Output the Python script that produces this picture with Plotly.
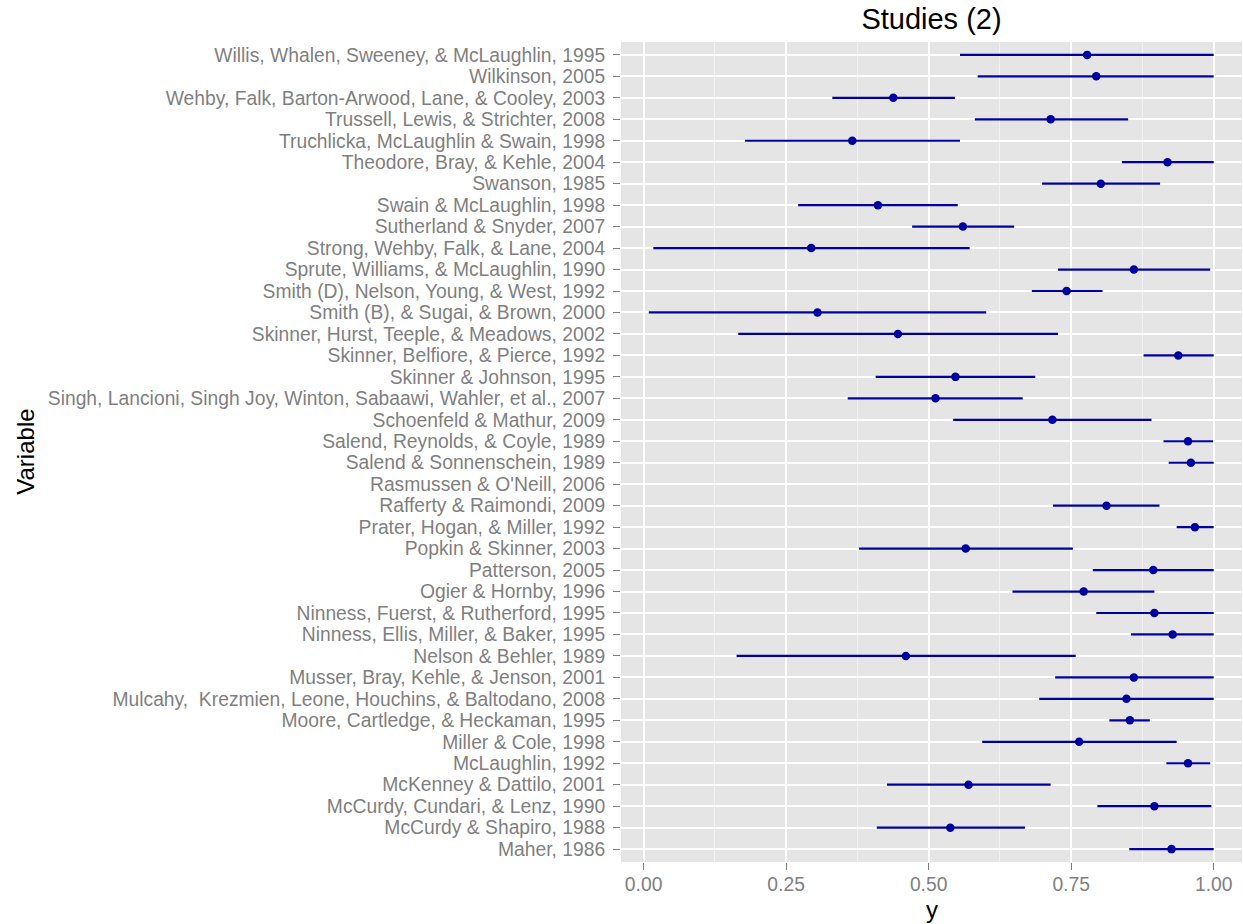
import plotly.graph_objects as go

studies = [
    "Willis, Whalen, Sweeney, & McLaughlin, 1995",
    "Wilkinson, 2005",
    "Wehby, Falk, Barton-Arwood, Lane, & Cooley, 2003",
    "Trussell, Lewis, & Strichter, 2008",
    "Truchlicka, McLaughlin & Swain, 1998",
    "Theodore, Bray, & Kehle, 2004",
    "Swanson, 1985",
    "Swain & McLaughlin, 1998",
    "Sutherland & Snyder, 2007",
    "Strong, Wehby, Falk, & Lane, 2004",
    "Sprute, Williams, & McLaughlin, 1990",
    "Smith (D), Nelson, Young, & West, 1992",
    "Smith (B), & Sugai, & Brown, 2000",
    "Skinner, Hurst, Teeple, & Meadows, 2002",
    "Skinner, Belfiore, & Pierce, 1992",
    "Skinner & Johnson, 1995",
    "Singh, Lancioni, Singh Joy, Winton, Sabaawi, Wahler, et al., 2007",
    "Schoenfeld & Mathur, 2009",
    "Salend, Reynolds, & Coyle, 1989",
    "Salend & Sonnenschein, 1989",
    "Rasmussen & O'Neill, 2006",
    "Rafferty & Raimondi, 2009",
    "Prater, Hogan, & Miller, 1992",
    "Popkin & Skinner, 2003",
    "Patterson, 2005",
    "Ogier & Hornby, 1996",
    "Ninness, Fuerst, & Rutherford, 1995",
    "Ninness, Ellis, Miller, & Baker, 1995",
    "Nelson & Behler, 1989",
    "Musser, Bray, Kehle, & Jenson, 2001",
    "Mulcahy,  Krezmien, Leone, Houchins, & Baltodano, 2008",
    "Moore, Cartledge, & Heckaman, 1995",
    "Miller & Cole, 1998",
    "McLaughlin, 1992",
    "McKenney & Dattilo, 2001",
    "McCurdy, Cundari, & Lenz, 1990",
    "McCurdy & Shapiro, 1988",
    "Maher, 1986",
]

estimate = [0.778, 0.794, 0.438, 0.714, 0.366, 0.919, 0.802, 0.411, 0.560, 0.294,
            0.860, 0.742, 0.305, 0.446, 0.938, 0.547, 0.512, 0.717, 0.955, 0.960,
            None, 0.812, 0.967, 0.565, 0.894, 0.772, 0.896, 0.928, 0.460, 0.860,
            0.847, 0.853, 0.764, 0.955, 0.570, 0.896, 0.538, 0.926]
lower = [0.555, 0.586, 0.331, 0.581, 0.178, 0.839, 0.699, 0.271, 0.471, 0.017,
         0.727, 0.681, 0.009, 0.166, 0.877, 0.407, 0.358, 0.543, 0.912, 0.921,
         None, 0.718, 0.935, 0.378, 0.788, 0.647, 0.794, 0.855, 0.163, 0.722,
         0.694, 0.817, 0.594, 0.917, 0.427, 0.796, 0.409, 0.852]
upper = [1.0, 1.0, 0.546, 0.850, 0.555, 1.0, 0.906, 0.551, 0.650, 0.572,
         0.994, 0.805, 0.601, 0.727, 1.0, 0.687, 0.665, 0.891, 0.999, 1.0,
         None, 0.905, 1.0, 0.753, 1.0, 0.896, 1.0, 1.0, 0.758, 1.0,
         1.0, 0.888, 0.935, 0.994, 0.714, 0.996, 0.669, 1.0]

x_ticks = [0.0, 0.25, 0.5, 0.75, 1.0]
x_ticklabels = ["0.00", "0.25", "0.50", "0.75", "1.00"]
x_minor = [0.125, 0.375, 0.625, 0.875]

plus = [None if (u is None or e is None) else u - e for u, e in zip(upper, estimate)]
minus = [None if (l is None or e is None) else e - l for l, e in zip(lower, estimate)]

color = "#0000a0"
fig = go.Figure()
fig.add_trace(go.Scatter(
    x=estimate, y=studies, mode="markers",
    marker=dict(color=color, size=8.5),
    error_x=dict(type="data", symmetric=False, array=plus, arrayminus=minus,
                 width=0, thickness=2.2, color=color),
    showlegend=False, cliponaxis=False,
))

font_family = "Liberation Sans, Arial, Helvetica, sans-serif"
L, R, T, B = 621, 1, 42, 62
W, H = 1243, 924
pw, ph = W - L - R, H - T - B

fig.update_layout(
    width=W, height=H,
    margin=dict(l=L, r=R, t=T, b=B),
    paper_bgcolor="white", plot_bgcolor="#e5e5e5",
    font=dict(family=font_family, color="#7f7f7f", size=19.3),
    title=dict(text="Studies (2)", xref="paper", x=0.5, xanchor="center",
               yref="container", y=1 - 18.5 / H, yanchor="middle",
               font=dict(size=29, color="black", family=font_family)),
    annotations=[
        dict(text="y", xref="paper", yref="paper", x=0.5, y=-(909 - (H - B)) / ph,
             xanchor="center", yanchor="middle", showarrow=False,
             font=dict(size=24, color="black", family=font_family)),
        dict(text="Variable", xref="paper", yref="paper", x=(24.7 - L) / pw, y=0.5,
             textangle=-90, xanchor="center", yanchor="middle", showarrow=False,
             font=dict(size=24, color="black", family=font_family)),
    ],
)
fig.update_xaxes(
    range=[-0.0397, 1.0497], tickmode="array", tickvals=x_ticks, ticktext=x_ticklabels,
    showgrid=True, gridcolor="white", gridwidth=1.8,
    ticks="outside", ticklen=7, tickcolor="#7f7f7f", tickwidth=1.2,
    ticklabelstandoff=-2,
    tickfont=dict(size=19.3, color="#7f7f7f"),
    zeroline=False, showline=False,
    minor=dict(tickvals=x_minor, showgrid=True, gridcolor="#f2f2f2", gridwidth=0.9, ticks=""),
)
fig.update_yaxes(
    type="category", categoryorder="array", categoryarray=list(reversed(studies)),
    tickmode="array", tickvals=studies, ticktext=studies,
    range=[-0.6, len(studies) - 0.4],
    showgrid=True, gridcolor="white", gridwidth=1.8,
    ticks="outside", ticklen=7, tickcolor="#7f7f7f", tickwidth=1.2,
    ticklabelstandoff=4,
    tickfont=dict(size=19.3, color="#7f7f7f"),
    zeroline=False, showline=False,
)
fig.write_html("out.html")
